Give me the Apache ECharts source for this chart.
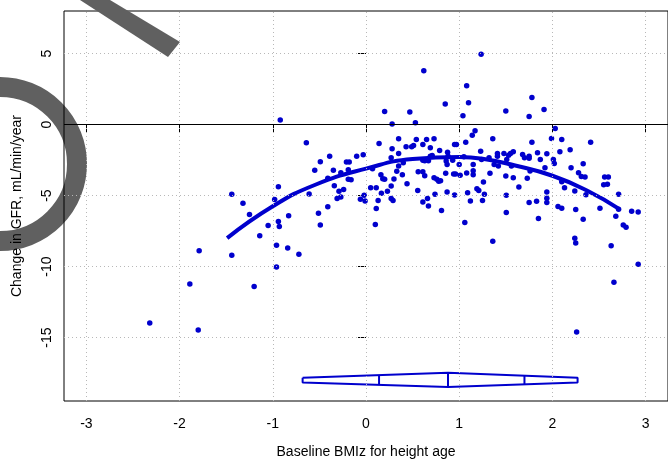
<!DOCTYPE html>
<html>
<head>
<meta charset="utf-8">
<script src="https://cdn.jsdelivr.net/npm/echarts@6/dist/echarts.min.js"></script>
<style>
  html, body { margin: 0; padding: 0; background: #fff; }
  #chart { width: 668px; height: 464px; }
</style>
</head>
<body>
<div id="chart"></div>
<script>
// baseline BMIz (x) and change in GFR (y), one entry per child
const bmiz = [
    -0.92, 0.62, 1.08, 1.10, 0.85, 0.20, 0.47, 1.04, 0.28, 0.53, 1.235, 1.17, 1.14, 0.35, 0.54, 0.65, 0.73,
    1.78, 1.50, 1.91, 1.75, 2.03, 1.99, 2.10, 1.36,
    -0.64, -0.55, -0.94, -1.44, -1.32, -0.98, -0.61, -1.25, -0.83, -0.94, -0.93, -1.05, -1.14,
    -1.79, -1.44, -0.96, -0.84, -0.72, -0.96, -1.89, -1.20, -2.32, -1.80,
    0.14, -0.49, -0.39, -0.21, -0.18, -0.10, -0.03, -0.27, -0.35, -0.19, -0.41, -0.19, -0.16, -0.34,
    -0.24, -0.29, -0.27, -0.31, -0.41, -0.51, -0.49, -0.06, -0.01, -0.02, 0.05, 0.11, 0.07, 0.16,
    0.18, 0.20, 0.30, 0.27, 0.23, 0.165, 0.13, 0.11, 0.10, 0.27, 0.29, 0.27, 0.28, 0.35, 0.43, 0.35,
    0.33, 0.39, 0.40, 0.44, 0.49, 0.51, 0.61, 0.69, 0.61, 0.63, 0.67, 0.69, 0.71, 0.79, 0.875, 0.95,
    0.97, 1.07, 0.88, 0.86, 0.87, 0.93, 1.00, 1.05, 1.15, 1.15, 1.15, 1.08, 1.01, 0.94, 0.96, 0.855,
    0.56, 0.61, 0.63, 0.73, 0.76, 0.78, 0.80, 0.555, 0.74, 0.87, 0.95, 1.09, 1.19, 1.21, 1.12, 0.66,
    0.61, 0.67, 0.81, 1.06, 1.23, 1.24,
    1.78, 2.41, 1.32, 1.41, 1.41, 1.48, 1.53, 1.55, 1.58, 1.51, 1.68, 1.70, 1.75, 1.75, 1.84, 1.94,
    2.08, 2.19, 1.87, 2.01, 2.02, 1.375, 1.42, 1.56, 1.33, 1.50, 1.58, 1.73, 1.76, 1.92, 1.26, 1.64,
    2.10, 2.13, 2.20, 2.33, 2.28, 2.31, 2.35, 2.24, 2.36, 2.56, 2.60, 2.55, 2.59, 2.71, 1.27, 1.505,
    1.94, 1.94, 1.94, 1.75, 1.83, 2.06, 2.10, 2.25, 2.51, 2.71, 2.85, 2.92, 2.68, 1.505, 1.85, 2.33,
    2.76, 2.79, 2.24,
    2.66, 2.92, 1.36, 2.25, 2.63, 2.26, 1.25
];
const gfrChange = [
    0.33, 3.80, 2.73, 1.54, 1.45, 0.93, 0.89, 0.63, 0.05, 0.14, 4.95, -0.44, -0.75, -1.00, -1.05, -1.05, -1.00,
    1.91, 0.96, 1.07, 0.58, -0.28, -0.98, -1.05, -1.00,
    -1.28, -3.22, -4.37, -4.90, -5.54, -5.28, -4.88, -6.33, -6.42, -6.82, -7.17, -7.10, -7.83,
    -8.88, -9.20, -8.50, -8.69, -9.13, -10.02, -11.23, -11.40, -13.97, -14.46,
    -1.33, -2.62, -2.22, -2.64, -2.64, -2.22, -2.13, -3.39, -3.22, -3.18, -3.78, -3.85, -3.88, -4.30,
    -4.56, -4.70, -5.09, -5.21, -5.79, -6.24, -7.06, -5.26, -5.37, -4.98, -4.44, -4.44, -3.10, -3.53,
    -3.81, -3.85, -3.83, -4.32, -4.70, -4.84, -5.35, -5.91, -7.03, -5.21, -5.35, -2.34, -1.70, -2.03, -1.56, -2.92,
    -3.29, -3.53, -2.69, -4.16, -1.56, -1.47, -1.40, -1.63, -2.50, -2.55, -2.55, -2.22, -2.17, -1.82, -1.94, -1.40,
    -1.40, -1.24, -2.22, -2.57, -2.80, -2.50, -2.80, -2.27, -2.80, -3.25, -3.53, -3.41, -3.57, -3.48, -3.48, -3.43,
    -3.32, -3.32, -3.60, -3.74, -3.85, -3.99, -3.95, -4.63, -4.90, -4.74, -4.95, -4.79, -4.51, -4.63, -5.37, -5.21,
    -5.44, -5.73, -6.05, -6.89, -1.87, -2.45,
    -1.24, -1.24, -2.34, -2.03, -2.22, -2.03, -2.15, -2.03, -1.91, -2.45, -2.10, -2.34, -2.36, -2.22, -1.98, -2.05,
    -1.91, -1.77, -2.45, -2.45, -2.73, -2.80, -2.92, -2.92, -3.43, -3.62, -3.74, -3.78, -3.27, -3.04, -4.04, -4.39,
    -4.02, -4.44, -3.04, -2.76, -3.39, -3.65, -3.69, -4.67, -4.93, -3.69, -3.69, -4.23, -4.20, -4.90, -4.90, -4.98,
    -4.74, -5.19, -5.49, -5.49, -5.40, -5.77, -5.89, -5.98, -5.89, -5.96, -6.10, -6.15, -6.45, -6.19, -6.61, -6.66,
    -7.06, -7.22, -8.00,
    -11.10, -9.83, -8.22, -8.34, -8.53, -14.60, -5.35
];

// fitted curve
const fitX = [-1.49, -1.0, -0.55, 0, 0.5, 1.0, 1.25, 1.6, 2.0, 2.38, 2.71];
const fitY = [-7.99, -5.75, -4.25, -3.1, -2.42, -2.28, -2.4, -2.88, -3.6, -4.67, -5.91];

// distribution diamond along the bottom
const diamondX = [-0.68, 0.88, 2.27, 2.27, 0.88, -0.68, -0.68];
const diamondY = [-17.82, -17.47, -17.82, -18.15, -18.48, -18.15, -17.82];
const markX      = [0.14, 0.88, 1.70];
const markTop    = [-17.64, -17.47, -17.68];
const markBottom = [-18.32, -18.48, -18.29];

const xTicks = [-3, -2, -1, 0, 1, 2, 3];
const yTicks = [-15, -10, -5, 0, 5];

const blue = '#0000cd';
const font = 'Liberation Sans, Arial, sans-serif';
const dotted = { color: '#b8b8b8', type: [1, 3], width: 1 };

const chart = echarts.init(document.getElementById('chart'));

const series = [
    {
        // dotted reference grid, like R's grid()
        type: 'scatter',
        data: [],
        z: 1,
        markLine: {
            silent: true,
            symbol: ['none', 'none'],
            label: { show: false },
            lineStyle: dotted,
            data: xTicks.map(v => ({ xAxis: v })).concat(yTicks.map(v => ({ yAxis: v })))
        }
    },
    {
        type: 'scatter',
        data: bmiz.map((x, i) => [x, gfrChange[i]]),
        symbolSize: 5.5,
        itemStyle: { color: blue, opacity: 1 },
        z: 3,
        markLine: {
            silent: true,
            symbol: ['none', 'none'],
            label: { show: false },
            lineStyle: { color: '#000', type: 'solid', width: 1 },
            data: [{ yAxis: 0 }]
        }
    },
    {
        type: 'line',
        data: fitX.map((x, i) => [x, fitY[i]]),
        smooth: true,
        showSymbol: false,
        lineStyle: { color: blue, width: 4 },
        z: 4
    },
    {
        type: 'line',
        data: diamondX.map((x, i) => [x, diamondY[i]]),
        showSymbol: false,
        lineStyle: { color: blue, width: 2 }
    }
];
markX.forEach((x, i) => {
    series.push({
        type: 'line',
        data: [[x, markTop[i]], [x, markBottom[i]]],
        showSymbol: false,
        lineStyle: { color: blue, width: 2 }
    });
});

const option = {
    animation: false,
    backgroundColor: '#fff',
    grid: {
        left: 64, top: 11, width: 614, height: 392,
        show: true, borderColor: '#000', borderWidth: 1
    },
    xAxis: {
        type: 'value',
        min: -3.24, max: 3.24,
        name: 'Baseline BMIz for height age',
        nameLocation: 'middle',
        nameGap: 44,
        nameTextStyle: { fontSize: 14, color: '#000', fontFamily: font },
        axisLine: { show: false },
        axisTick: { show: true, length: 8, customValues: xTicks, lineStyle: { color: '#000' } },
        axisLabel: { customValues: xTicks, fontSize: 14, color: '#000', fontFamily: font, margin: 16 },
        splitLine: { show: false }
    },
    yAxis: {
        type: 'value',
        min: -19.46, max: 8.0,
        name: 'Change in GFR, mL/min/year',
        nameLocation: 'middle',
        nameGap: 40,
        nameTextStyle: { fontSize: 14, color: '#000', fontFamily: font },
        axisLine: { show: false },
        axisTick: { show: true, length: 8, customValues: yTicks, lineStyle: { color: '#000' } },
        axisLabel: { customValues: yTicks, rotate: 90, fontSize: 14, color: '#000', fontFamily: font, margin: 10 },
        splitLine: { show: false }
    },
    graphic: [
        {
            type: 'circle',
            silent: true,
            z: -1,
            shape: { cx: 0, cy: 164, r: 77 },
            style: { fill: 'transparent', stroke: '#606060', lineWidth: 20 }
        },
        {
            type: 'polygon',
            silent: true,
            z: 100,
            shape: { points: [[80, 0], [110, 0], [180, 42], [168, 57]] },
            style: { fill: '#606060' }
        }
    ],
    series: series
};

chart.setOption(option);
</script>
</body>
</html>
